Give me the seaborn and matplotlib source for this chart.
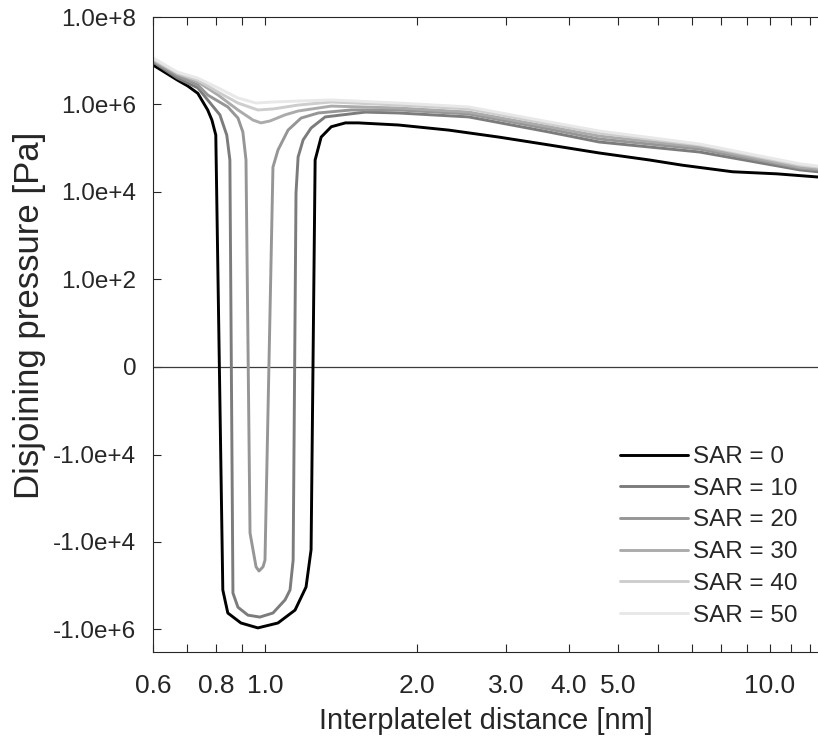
import numpy as np
import pandas as pd
import matplotlib
matplotlib.use("Agg")
import matplotlib.pyplot as plt
import seaborn as sns

# ---------------- data (distance in nm, pressure in Pa) ----------------
sar_levels = [0, 10, 20, 30, 40, 50]

x_sar0 = [0.6, 0.671, 0.703, 0.736, 0.770, 0.785, 0.799, 0.825, 0.844, 0.896, 0.968, 1.061,
          1.147, 1.206, 1.234, 1.257, 1.292, 1.353, 1.443, 1.53, 1.838, 2.311, 2.905,
          3.652, 4.592, 5.77, 6.71, 8.44, 10.33, 12.46]
p_sar0 = [8.0e6, 3.6e6, 2.65e6, 1.8e6, 7.5e5, 4.4e5, 2.0e5, -1.25e5, -4.2e5, -7.1e5, -9.2e5, -7.1e5,
          -3.6e5, -1.07e5, -1.5e4, 5.4e4, 1.8e5, 3.1e5, 3.8e5, 3.8e5, 3.4e5, 2.6e5, 1.8e5,
          1.19e5, 7.8e4, 5.4e4, 4.1e4, 2.9e4, 2.6e4, 2.2e4]

x_sar10 = [0.6, 0.671, 0.736, 0.770, 0.814, 0.840, 0.852, 0.864, 0.884, 0.925, 0.977, 1.037,
           1.096, 1.121, 1.137, 1.152, 1.163, 1.19, 1.234, 1.316, 1.58, 1.838, 2.533,
           3.652, 4.592, 7.26, 11.47, 12.46]
p_sar10 = [9.4e6, 4.0e6, 2.4e6, 1.27e6, 5.8e5, 2.0e5, 5.4e4, -1.47e5, -3.1e5, -4.7e5, -5.2e5, -4.2e5,
           -2.1e5, -1.25e5, -2.6e4, 9.5e3, 6.3e4, 1.55e5, 2.9e5, 5.2e5, 6.7e5, 6.4e5, 5.2e5,
           2.35e5, 1.39e5, 8.2e4, 3.2e4, 2.9e4]

x_sar20 = [0.6, 0.671, 0.736, 0.770, 0.844, 0.884, 0.904, 0.917, 0.934, 0.960, 0.973, 0.991,
           1.0, 1.037, 1.061, 1.111, 1.179, 1.275, 1.483, 1.838, 2.533, 3.652, 4.592,
           7.26, 11.47, 12.46]
p_sar20 = [9.9e6, 4.5e6, 2.8e6, 1.65e6, 8.8e5, 4.9e5, 2.35e5, 5.4e4, -6.2e3, -3.7e4, -4.6e4, -3.7e4,
           -2.6e4, 3.7e4, 9.1e4, 2.6e5, 4.9e5, 6.4e5, 7.5e5, 7.5e5, 6.1e5, 2.75e5, 1.63e5,
           9.6e4, 3.5e4, 3.2e4]

x_sar30 = [0.6, 0.671, 0.736, 0.807, 0.884, 0.947, 0.982, 1.023, 1.096, 1.163, 1.353, 1.838,
           2.533, 3.652, 4.592, 7.26, 11.47, 12.46]
p_sar30 = [1.04e7, 5.0e6, 3.3e6, 1.65e6, 7.5e5, 4.4e5, 3.8e5, 4.2e5, 5.8e5, 7.1e5, 9.2e5, 8.3e5,
           6.7e5, 3.1e5, 1.9e5, 1.07e5, 3.7e4, 3.4e4]

x_sar40 = [0.6, 0.671, 0.736, 0.807, 0.884, 0.968, 1.037, 1.163, 1.353, 1.838, 2.533, 3.652,
           4.592, 7.26, 11.47, 12.46]
p_sar40 = [1.1e7, 5.2e6, 3.6e6, 1.93e6, 1.08e6, 7.5e5, 7.9e5, 9.7e5, 1.14e6, 9.7e5, 7.9e5, 3.6e5,
           2.2e5, 1.19e5, 4.1e4, 3.7e4]

x_sar50 = [0.6, 0.671, 0.736, 0.807, 0.884, 0.960, 1.037, 1.163, 1.353, 1.838, 2.533, 3.652,
           4.592, 7.26, 11.47, 12.46]
p_sar50 = [1.16e7, 5.5e6, 4.0e6, 2.4e6, 1.41e6, 1.08e6, 1.14e6, 1.2e6, 1.27e6, 1.08e6, 8.8e5, 4.0e5,
           2.48e5, 1.25e5, 4.4e4, 3.9e4]

line_colors = ["#000000", "#7c7c7c", "#969696", "#ababab", "#cdcdcd", "#e8e8e8"]
legend_labels = ["SAR = 0", "SAR = 10", "SAR = 20", "SAR = 30", "SAR = 40", "SAR = 50"]

x_tick_values = [0.6, 0.7, 0.8, 0.9, 1.0, 2.0, 3.0, 4.0, 5.0, 6.0, 7.0, 8.0, 9.0, 10.0, 11.0, 12.0]
x_tick_labels = ["0.6", "", "0.8", "", "1.0", "2.0", "3.0", "4.0", "5.0", "", "", "", "", "10.0", "", ""]
y_tick_values = [1e8, 1e6, 1e4, 1e2, 0, -1e2, -1e4, -1e6]
y_tick_labels = ["1.0e+8", "1.0e+6", "1.0e+4", "1.0e+2", "0", "-1.0e+4", "-1.0e+4", "-1.0e+6"]

# ---------------- long-form table ----------------
xs = [x_sar0, x_sar10, x_sar20, x_sar30, x_sar40, x_sar50]
ps = [p_sar0, p_sar10, p_sar20, p_sar30, p_sar40, p_sar50]
frames = []
for lab, xv, pv in zip(legend_labels, xs, ps):
    frames.append(pd.DataFrame({"distance": xv, "pressure": pv, "SAR": lab}))
df = pd.concat(frames, ignore_index=True)

# ---------------- figure ----------------
sns.set_theme(style="white")
plt.rcParams["font.family"] = ["Liberation Sans", "DejaVu Sans"]
plt.rcParams["text.color"] = "#262626"

fig = plt.figure(figsize=(8.18, 7.38), dpi=100)
ax = fig.add_axes([153 / 818, 1 - 652 / 738, 665 / 818, 635 / 738])


def fwd(p):
    p = np.asarray(p, dtype=float)
    return np.sign(p) * np.log10(1.0 + np.abs(p)) / 2.0


def inv(t):
    t = np.asarray(t, dtype=float)
    return np.sign(t) * (10.0 ** (2.0 * np.abs(t)) - 1.0)


ax.set_xscale("log")
ax.set_yscale("function", functions=(fwd, inv))

sns.lineplot(data=df, x="distance", y="pressure", hue="SAR", hue_order=legend_labels,
             palette=line_colors, sort=False, estimator=None, linewidth=2.1,
             legend=False, ax=ax)

ax.axhline(0, color="#3a3a3a", linewidth=0.9, zorder=1)

ax.set_xlim(0.6, 12.46)
ax.set_ylim(-3.27e6, 1e8)

ax.set_xticks(x_tick_values)
ax.set_xticklabels(x_tick_labels)
ax.xaxis.set_minor_locator(matplotlib.ticker.NullLocator())
ax.set_yticks(y_tick_values)
ax.set_yticklabels(y_tick_labels)
ax.yaxis.set_minor_locator(matplotlib.ticker.NullLocator())

ax.tick_params(axis="both", direction="in", length=6, width=0.8, colors="#262626")
ax.tick_params(axis="x", top=True, bottom=True, pad=16, labelsize=19)
ax.tick_params(axis="y", left=True, right=False, pad=12, labelsize=17.5)

for side in ["left", "bottom", "top"]:
    ax.spines[side].set_color("#262626")
    ax.spines[side].set_linewidth(0.8)
ax.spines["right"].set_visible(False)

ax.set_xlabel("Interplatelet distance [nm]", fontsize=21, color="#262626", labelpad=6)
ax.set_ylabel("Disjoining pressure [Pa]", fontsize=25, color="#262626")
ax.yaxis.set_label_coords((46 - 153) / 665, 0.53)

handles = ax.lines[:6]
ax.legend(handles, legend_labels, loc="upper left", bbox_to_anchor=(620 / 818, 1 - 446 / 738),
          bbox_transform=fig.transFigure, frameon=False, fontsize=17.5, handlelength=2.8,
          handletextpad=0.2, labelspacing=0.4, borderpad=0, borderaxespad=0)

fig.savefig("out.png", dpi=100)
